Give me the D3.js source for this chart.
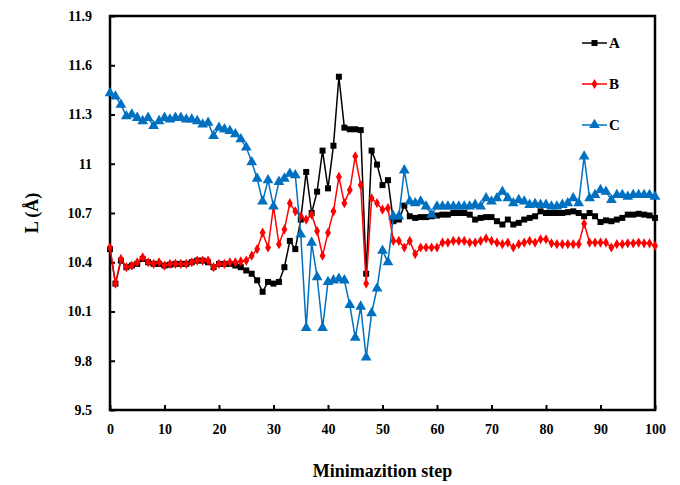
<!DOCTYPE html>
<html>
<head>
<meta charset="utf-8">
<script src="https://cdn.jsdelivr.net/npm/d3@7"></script>
<style>
  body { margin: 0; background: #fff; }
  svg text { font-family: "Liberation Serif", "Times New Roman", serif; font-weight: bold; }
</style>
</head>
<body>
<svg id="chart" width="680" height="485"></svg>
<script>
// values, one per minimization step 0..100
var steps = d3.range(0, 101);

var seriesA = [
  10.48, 10.27, 10.41, 10.37, 10.38, 10.39, 10.42, 10.40, 10.39, 10.39,
  10.38, 10.385, 10.39, 10.39, 10.39, 10.40, 10.41, 10.41, 10.40, 10.37,
  10.39, 10.39, 10.39, 10.38, 10.37, 10.35, 10.33, 10.29, 10.22, 10.28,
  10.27, 10.28, 10.37, 10.53, 10.48, 10.66, 10.95, 10.70, 10.83, 11.08,
  10.85, 11.11, 11.53, 11.22, 11.21, 11.21, 11.205, 10.33, 11.08, 10.995,
  10.87, 10.90, 10.65, 10.66, 10.745, 10.68, 10.67, 10.675, 10.675, 10.68,
  10.685, 10.69, 10.69, 10.70, 10.70, 10.70, 10.69, 10.66, 10.67, 10.675,
  10.675, 10.65, 10.63, 10.66, 10.63, 10.64, 10.66, 10.67, 10.68, 10.71,
  10.70, 10.70, 10.70, 10.70, 10.705, 10.71, 10.70, 10.68, 10.70, 10.68,
  10.645, 10.655, 10.65, 10.66, 10.67, 10.69, 10.69, 10.695, 10.69, 10.685,
  10.67
];

var seriesB = [
  10.49, 10.27, 10.42, 10.37, 10.38, 10.40, 10.43, 10.40, 10.39, 10.40,
  10.38, 10.39, 10.39, 10.39, 10.39, 10.40, 10.41, 10.41, 10.41, 10.37,
  10.39, 10.39, 10.40, 10.40, 10.405, 10.41, 10.44, 10.48, 10.58, 10.49,
  10.74, 10.51, 10.60, 10.76, 10.71, 10.68, 10.66, 10.69, 10.59, 10.44,
  10.58, 10.71, 10.92, 10.76, 10.84, 11.045, 10.87, 10.27, 10.79, 10.76,
  10.72, 10.73, 10.53, 10.53, 10.49, 10.53, 10.45, 10.49, 10.49, 10.49,
  10.49, 10.52, 10.52, 10.53, 10.53, 10.53, 10.52, 10.52, 10.53, 10.545,
  10.53, 10.52, 10.51, 10.52, 10.49, 10.51, 10.52, 10.53, 10.52, 10.54,
  10.54, 10.515, 10.51, 10.51, 10.51, 10.51, 10.51, 10.635, 10.52, 10.52,
  10.52, 10.52, 10.49, 10.51, 10.51, 10.515, 10.515, 10.52, 10.515, 10.515,
  10.50
];

var seriesC = [
  11.43, 11.41, 11.36, 11.29, 11.30, 11.28, 11.26, 11.28, 11.23, 11.26,
  11.28, 11.27, 11.28, 11.28, 11.27, 11.27, 11.26, 11.24, 11.25, 11.17,
  11.22, 11.21, 11.20, 11.18, 11.15, 11.10, 11.01, 10.91, 10.77, 10.90,
  10.74, 10.89, 10.91, 10.94, 10.93, 10.57, 10.00, 10.52, 10.31, 10.00,
  10.28, 10.29, 10.30, 10.29, 10.14, 9.94, 10.13, 9.82, 10.09, 10.24,
  10.47, 10.40, 10.68, 10.68, 10.96, 10.77, 10.76, 10.77, 10.74, 10.69,
  10.74, 10.74, 10.74, 10.74, 10.74, 10.74, 10.74, 10.75, 10.74, 10.79,
  10.77, 10.79, 10.83, 10.79, 10.76, 10.78, 10.77, 10.75, 10.755, 10.75,
  10.75, 10.74, 10.74, 10.75, 10.76, 10.79, 10.76, 11.045, 10.79, 10.81,
  10.84, 10.83, 10.78, 10.81, 10.81, 10.80, 10.81, 10.81, 10.81, 10.81,
  10.80
];

var seriesNames = ["A", "B", "C"];
var seriesColors = ["#000000", "#ff0000", "#0070c0"];
var seriesSymbols = [d3.symbolSquare, d3.symbolDiamond, d3.symbolTriangle];
var symbolSizes = [36, 30, 50];
var xTicks = [0, 10, 20, 30, 40, 50, 60, 70, 80, 90, 100];
var yTicks = [9.5, 9.8, 10.1, 10.4, 10.7, 11, 11.3, 11.6, 11.9];

var svg = d3.select("#chart"),
    margin = {top: 16, right: 25, bottom: 75, left: 110},
    width = 680 - margin.left - margin.right,
    height = 485 - margin.top - margin.bottom;

var g = svg.append("g")
    .attr("transform", "translate(" + margin.left + "," + margin.top + ")");

var x = d3.scaleLinear().domain([0, 100]).range([0, width]);
var y = d3.scaleLinear().domain([9.5, 11.9]).range([height, 0]);

// axes: ticks point inward
var xAxis = g.append("g")
    .attr("transform", "translate(0," + height + ")")
    .call(d3.axisBottom(x).tickValues(xTicks).tickSize(-5).tickPadding(14));
var yAxis = g.append("g")
    .call(d3.axisLeft(y).tickValues(yTicks).tickSize(-5).tickPadding(18)
          .tickFormat(function(d) { return d3.format("")(+d.toFixed(1)); }));

[xAxis, yAxis].forEach(function(ax) {
    ax.select(".domain").remove();
    ax.selectAll(".tick line").attr("stroke", "#000").attr("stroke-width", 2);
    ax.selectAll(".tick text")
        .attr("fill", "#000")
        .style("font-size", "14px");
});

// frame
g.append("rect")
    .attr("x", 0).attr("y", 0)
    .attr("width", width).attr("height", height)
    .attr("fill", "none")
    .attr("stroke", "#000")
    .attr("stroke-width", 2.5);

var data = [seriesA, seriesB, seriesC];

var line = d3.line()
    .x(function(d, i) { return x(steps[i]); })
    .y(function(d) { return y(d); });

var series = g.selectAll(".series")
    .data(data)
    .enter().append("g")
    .attr("class", "series");

series.append("path")
    .attr("fill", "none")
    .attr("stroke", function(d, i) { return seriesColors[i]; })
    .attr("stroke-width", 1.5)
    .attr("d", line);

series.each(function(vals, si) {
    d3.select(this).selectAll(".pt")
        .data(vals)
        .enter().append("path")
        .attr("class", "pt")
        .attr("transform", function(d, i) {
            return "translate(" + x(steps[i]) + "," + y(d) + ")";
        })
        .attr("fill", seriesColors[si])
        .attr("d", d3.symbol().type(seriesSymbols[si]).size(symbolSizes[si]));
});

// legend
var legend = g.selectAll(".legend")
    .data(seriesNames)
    .enter().append("g")
    .attr("class", "legend")
    .attr("transform", function(d, i) {
        return "translate(" + (582 - margin.left) + "," + (43 - margin.top + i * 41) + ")";
    });

legend.append("line")
    .attr("x1", 0).attr("x2", 25)
    .attr("stroke", function(d, i) { return seriesColors[i]; })
    .attr("stroke-width", 1.5);

legend.append("path")
    .attr("transform", "translate(12.5,0)")
    .attr("fill", function(d, i) { return seriesColors[i]; })
    .attr("d", function(d, i) {
        return d3.symbol().type(seriesSymbols[i]).size(symbolSizes[i])();
    });

legend.append("text")
    .attr("x", 27)
    .attr("dy", "0.35em")
    .style("font-size", "15px")
    .text(function(d) { return d; });

// axis titles
svg.append("text")
    .attr("x", margin.left + width / 2)
    .attr("y", 477)
    .attr("text-anchor", "middle")
    .style("font-size", "18px")
    .text("Minimazition step");

svg.append("text")
    .attr("transform", "translate(38," + (margin.top + height / 2) + ") rotate(-90)")
    .attr("text-anchor", "middle")
    .style("font-size", "18px")
    .text("L (Å)");
</script>
</body>
</html>
